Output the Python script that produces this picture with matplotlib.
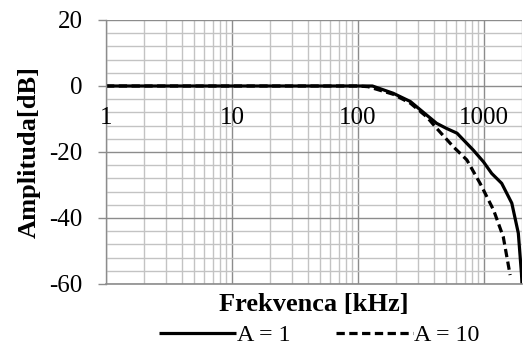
import numpy as np
import matplotlib
matplotlib.use("Agg")
import matplotlib.pyplot as plt
from matplotlib.ticker import LogLocator, MultipleLocator, NullFormatter

plt.rcParams['font.family'] = ['Liberation Serif', 'DejaVu Serif']

# Data
f_a1 = [1, 10, 100, 130, 190, 260, 350, 420, 500, 610, 820, 990, 1150, 1380, 1660, 1870, 1980, 2000]
db_a1 = [0, 0, 0, 0, -2.2, -4.7, -8.8, -11.3, -12.8, -14.3, -19.4, -23.0, -26.5, -29.5, -35.5, -44.6, -56.8, -60]
f_a10 = [1, 10, 100, 120, 190, 260, 350, 420, 570, 730, 930, 1190, 1420, 1610]
db_a10 = [0, 0, 0, -0.2, -2.5, -5.2, -9.3, -12.8, -18.4, -22.4, -29.5, -37.6, -45.7, -57.3]
xticks = [1, 10, 100, 1000]
xtick_labels = ["1", "10", "100", "1000"]
yticks = [-60, -40, -20, 0, 20]
labels = ["A = 1", "A = 10"]

fig = plt.figure(figsize=(5.23, 3.49), dpi=100)
ax = fig.add_axes([106/523, 1 - 284/349, 416/523, 264/349])

ax.set_xscale('log')
ax.set_xlim(1, 2000)
ax.set_ylim(-60, 20)

minor_c = '#c3c3c3'
major_c = '#8c8c8c'
ax.xaxis.set_major_locator(LogLocator(base=10, numticks=10))
ax.xaxis.set_minor_locator(LogLocator(base=10, subs=np.arange(2, 10), numticks=20))
ax.yaxis.set_major_locator(MultipleLocator(20))
ax.yaxis.set_minor_locator(MultipleLocator(4))
ax.grid(which='minor', color=minor_c, linewidth=1.0)
ax.grid(which='major', color=major_c, linewidth=1.0)
ax.set_axisbelow(True)

l1, = ax.plot(f_a1, db_a1, color='black', linewidth=2.3, solid_capstyle='butt')
l2, = ax.plot(f_a10, db_a10, color='black', linewidth=2.3, linestyle=(0, (2.6, 1.4)))

for s in ['top', 'right']:
    ax.spines[s].set_visible(False)
ax.spines['left'].set_color(major_c)
ax.spines['bottom'].set_color(major_c)
ax.spines['left'].set_linewidth(1.0)
ax.spines['bottom'].set_linewidth(1.2)

ax.set_yticks(yticks)
ax.set_yticklabels([str(v) for v in yticks])
ax.tick_params(axis='y', which='major', length=6, width=1.0, color=major_c, pad=11, labelsize=18)
ax.tick_params(axis='y', which='minor', length=0)
ax.tick_params(axis='x', which='both', length=0, labelbottom=False)
ax.xaxis.set_minor_formatter(NullFormatter())

for xv, lab in zip(xticks, xtick_labels):
    ax.text(xv, -9.6, lab, ha='center', va='center', fontsize=18)

ax.set_ylabel('Amplituda[dB]', fontsize=19, fontweight='bold')
ax.yaxis.set_label_coords(-0.158, 0.5)
ax.set_xlabel('Frekvenca [kHz]', fontsize=19, fontweight='bold')
ax.xaxis.set_label_coords(0.5, -0.035)

fig.legend([l1, l2], labels, loc='center', bbox_to_anchor=(0.61, 0.040), ncol=2,
           frameon=False, fontsize=17.3, handlelength=3.2, columnspacing=1.9,
           handletextpad=0.05, borderpad=0)

fig.savefig('out.png', dpi=100)
